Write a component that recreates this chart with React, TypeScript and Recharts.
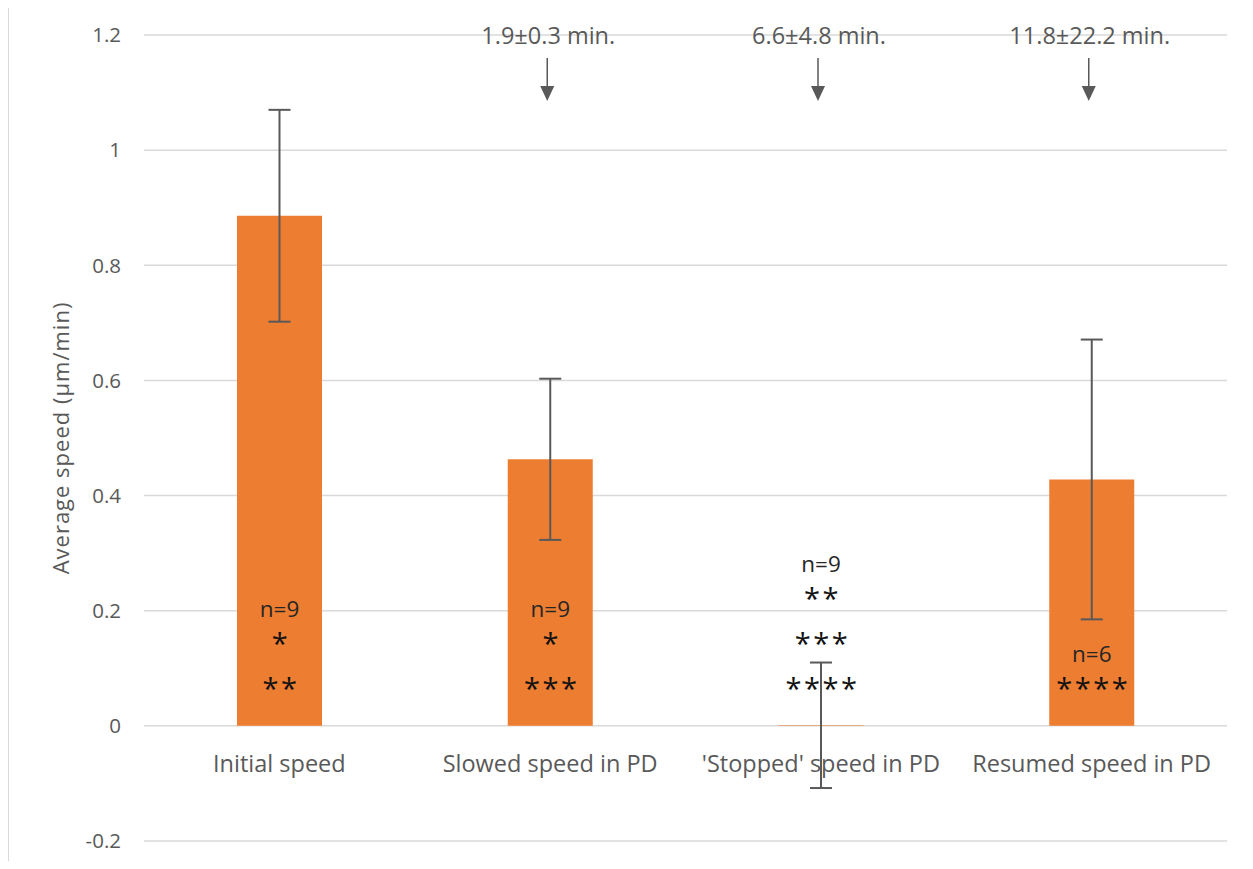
import React from 'react';
import {
  BarChart, Bar, XAxis, YAxis, CartesianGrid, ErrorBar, LabelList
} from 'recharts';

const categories = ['Initial speed', 'Slowed speed in PD', "'Stopped' speed in PD", 'Resumed speed in PD'];
const speeds = [0.886, 0.463, 0.001, 0.428];
const errors = [0.184, 0.140, 0.109, 0.243];
const sampleSizes = ['n=9', 'n=9', 'n=9', 'n=6'];
const stars = [['*', '**'], ['*', '***'], ['**', '***', '****'], ['****']];
const timeNotes = ['', '1.9±0.3 min.', '6.6±4.8 min.', '11.8±22.2 min.'];
const yTicks = [-0.2, 0, 0.2, 0.4, 0.6, 0.8, 1, 1.2];

const data = categories.map((name, i) => ({
  name,
  speed: speeds[i],
  err: errors[i],
  n: sampleSizes[i],
  note: timeNotes[i],
}));

const W = 1253;
const H = 869;
const MARGIN = { top: 35, right: 26, bottom: 0, left: 44 };
const X_AXIS_H = 28;
const PLOT_H = H - MARGIN.top - MARGIN.bottom - X_AXIS_H;
const ZERO_Y = MARGIN.top + PLOT_H * (1.2 / 1.4);

const FONT = '"Open Sans", "Noto Sans", sans-serif';
const GREY = '#595959';

const CategoryTick = (props: any) => {
  const { x, payload } = props;
  return (
    <text x={x} y={ZERO_Y + 46} textAnchor="middle" fill={GREY} fontSize={23.5} fontFamily={FONT}>
      {payload.value}
    </text>
  );
};

// n= and asterisk lines stacked up from the zero line
const InsideLabels = (props: any) => {
  const { x, width, index } = props;
  const cx = x + width / 2;
  const lines = stars[index];
  const out: React.ReactNode[] = [];
  lines.slice().reverse().forEach((s, k) => {
    const center = ZERO_Y - 39 - 45 * k;
    out.push(
      <text key={'s' + k} x={cx + 1.5} y={center + 12} textAnchor="middle" fill="#111"
        fontSize={29} fontWeight={500} letterSpacing={2.5} fontFamily={FONT}>
        {s}
      </text>
    );
  });
  const topCenter = ZERO_Y - 39 - 45 * (lines.length - 1) - 33;
  out.push(
    <text key="n" x={cx} y={topCenter + 8} textAnchor="middle" fill="#262626" fontSize={22.5} fontFamily={FONT}>
      {sampleSizes[index]}
    </text>
  );
  return <g>{out}</g>;
};

const TimeNote = (props: any) => {
  const { x, width, value } = props;
  if (!value) return null;
  const cx = x + width / 2;
  return (
    <g>
      <text x={cx - 2} y={44} textAnchor="middle" fill={GREY} fontSize={23.5} fontFamily={FONT}>
        {value}
      </text>
      <line x1={cx - 3} y1={58} x2={cx - 3} y2={88} stroke={GREY} strokeWidth={1.5} />
      <polygon points={`${cx - 10},86 ${cx + 4},86 ${cx - 3},101`} fill={GREY} />
    </g>
  );
};

export default function App() {
  return (
    <div style={{ position: 'relative', width: W, height: H, margin: -8, overflow: 'hidden', background: '#fff' }}>
      <div style={{
        position: 'absolute', left: 7, top: 6, width: 1400, height: 1000,
        borderLeft: '2px solid #d9d9d9', borderTop: '2px solid #d9d9d9'
      }} />
      <div style={{ position: 'absolute', left: 0, top: 0 }}>
        <BarChart width={W} height={H} data={data} margin={MARGIN}>
          <CartesianGrid vertical={false} stroke="#d9d9d9" strokeWidth={1.5} />
          <XAxis dataKey="name" height={X_AXIS_H} axisLine={false} tickLine={false} tick={<CategoryTick />} interval={0} />
          <YAxis
            domain={[-0.2, 1.2]}
            ticks={yTicks}
            width={100}
            axisLine={false}
            tickLine={false}
            tickMargin={17}
            tickFormatter={(v: number) => String(Math.round(v * 10) / 10)}
            tick={{ fill: GREY, fontSize: 20.5, fontFamily: FONT }}
            label={{
              value: 'Average speed (µm/min)', angle: -90, position: 'insideLeft', offset: 17,
              style: { fill: GREY, fontSize: 22, letterSpacing: 1, fontFamily: FONT, textAnchor: 'middle' }
            }}
          />
          <Bar dataKey="speed" fill="#ED7D31" barSize={85} isAnimationActive={false}>
            <ErrorBar dataKey="err" width={11} stroke={GREY} strokeWidth={2} />
            <LabelList dataKey="n" content={<InsideLabels />} />
            <LabelList dataKey="note" content={<TimeNote />} />
          </Bar>
        </BarChart>
      </div>
    </div>
  );
}
